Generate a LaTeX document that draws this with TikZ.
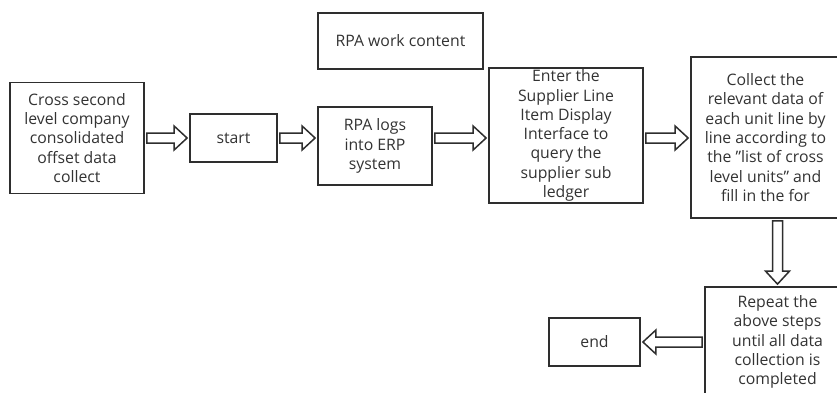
\documentclass[tikz,border=0pt]{standalone}
\usepackage{fontspec}
\setmainfont{Open Sans}
\usetikzlibrary{calc}
\definecolor{ink}{HTML}{2E2E2E}
\definecolor{txt}{HTML}{333333}
\tikzset{
  box/.style={draw=ink, line width=1.8pt, fill=white, rectangle, align=center,
    inner sep=0pt, text=txt, font=\fontsize{15.8}{19.3}\selectfont},
  blockarrow/.style={draw=ink, line width=1.5pt, fill=white, line join=miter,
    to path={
      ($(\tikztostart)!2pt!(\tikztotarget)!5pt!90:(\tikztotarget)$) --
      ($(\tikztotarget)!15pt!(\tikztostart)!5pt!-90:(\tikztostart)$) --
      ($(\tikztotarget)!15pt!(\tikztostart)!12pt!-90:(\tikztostart)$) --
      ($(\tikztotarget)!2pt!(\tikztostart)$) --
      ($(\tikztotarget)!15pt!(\tikztostart)!12pt!90:(\tikztostart)$) --
      ($(\tikztotarget)!15pt!(\tikztostart)!5pt!90:(\tikztostart)$) --
      ($(\tikztostart)!2pt!(\tikztotarget)!5pt!-90:(\tikztotarget)$) -- cycle}}
}
\begin{document}
\begin{tikzpicture}[x=1pt,y=-1pt]
\useasboundingbox (0,0) rectangle (837,392);
\clip (0,0) rectangle (837,392);
\fill[white] (0,0) rectangle (837,392);
\node[box, minimum width=134pt, minimum height=111pt] (ncross) at (77,138)
  {Cross second\\level company\\consolidated\\offset data\\collect};
\node[box, minimum width=87pt, minimum height=48pt] (nstart) at (233.5,138) {start};
\node[box, minimum width=165pt, minimum height=56pt] (nwork) at (400.5,41) {RPA work content};
\node[box, minimum width=114pt, minimum height=78pt] (nlogs) at (375,146) {RPA logs\\into ERP\\system};
\node[box, minimum width=154pt, minimum height=135pt] (nenter) at (566,135.5)
  {Enter the\\Supplier Line\\Item Display\\Interface to\\query the\\supplier sub\\ledger};
\node[box, minimum width=149pt, minimum height=161pt] (ncollect) at (765.5,137.5)
  {Collect the\\relevant data of\\each unit line by\\line according to\\the "list of cross\\level units" and\\fill in the for};
\node[box, minimum width=145pt, minimum height=110pt] (nrepeat) at (777.5,342)
  {Repeat the\\above steps\\until all data\\collection is\\completed};
\node[box, minimum width=91pt, minimum height=48pt] (nend) at (594.5,342) {end};

\draw[blockarrow] (ncross.east) to (nstart.west);
\draw[blockarrow] (nstart.east) to (nstart.east -| nlogs.west);
\draw[blockarrow] (nlogs.east |- nstart.east) to (nenter.west |- nstart.east);
\draw[blockarrow] (nenter.east |- nstart.east) to (ncollect.west |- nstart.east);
\draw[blockarrow] (ncollect.south -| nrepeat.north) to (nrepeat.north);
\draw[blockarrow] (nrepeat.west) to (nend.east);
\end{tikzpicture}
\end{document}
